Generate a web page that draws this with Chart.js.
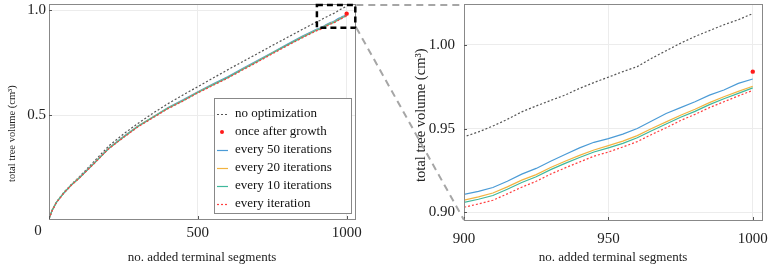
<!DOCTYPE html>
<html>
<head>
<meta charset="utf-8">
<script src="https://cdn.jsdelivr.net/npm/chart.js@4.4.1/dist/chart.umd.min.js"></script>
<style>
  html, body { margin: 0; padding: 0; background: #fff; }
  #wrap { position: relative; width: 768px; height: 265px; }
  canvas { position: absolute; top: 0; }
  #left { left: 0; }
  #right { left: 384px; }
  #over { left: 0; pointer-events: none; }
</style>
</head>
<body>
<div id="wrap">
  <canvas id="left" width="380" height="265"></canvas>
  <canvas id="right" width="384" height="265"></canvas>
  <canvas id="over" width="768" height="265"></canvas>
</div>
<script>
// no. added terminal segments (coarse up to 900, then finer for the zoomed panel)
const segments = [0, 10, 25, 50, 75, 100, 150, 200, 250, 300, 350, 400, 450, 500, 550, 600, 650, 700, 750, 800, 850,
  900, 905, 910, 915, 920, 925, 930, 935, 940, 945, 950, 955, 960, 965, 970, 975, 980, 985, 990, 995, 1000];

const noOptimization = [0.005, 0.045, 0.086, 0.132, 0.170, 0.203, 0.277, 0.352, 0.410, 0.462, 0.510, 0.555, 0.596, 0.636, 0.676, 0.716, 0.755, 0.793, 0.832, 0.870, 0.908,
  0.9451, 0.9480, 0.9515, 0.9555, 0.9600, 0.9635, 0.9668, 0.9700, 0.9740, 0.9775, 0.9807, 0.9840, 0.9870, 0.9920, 0.9965, 1.0010, 1.0050, 1.0085, 1.0120, 1.0150, 1.0187];
const every50 = [0.005, 0.045, 0.085, 0.130, 0.168, 0.200, 0.270, 0.343, 0.398, 0.450, 0.493, 0.537, 0.573, 0.612, 0.648, 0.683, 0.722, 0.760, 0.799, 0.838, 0.876,
  0.9107, 0.9125, 0.9148, 0.9185, 0.9228, 0.9262, 0.9305, 0.9345, 0.9385, 0.9418, 0.9440, 0.9467, 0.9500, 0.9545, 0.9590, 0.9625, 0.9660, 0.9700, 0.9730, 0.9770, 0.9796];
const every20 = [0.005, 0.045, 0.085, 0.130, 0.167, 0.199, 0.269, 0.341, 0.396, 0.448, 0.491, 0.534, 0.570, 0.609, 0.645, 0.680, 0.719, 0.757, 0.796, 0.835, 0.872,
  0.9073, 0.9092, 0.9115, 0.9152, 0.9192, 0.9225, 0.9268, 0.9305, 0.9340, 0.9372, 0.9398, 0.9425, 0.9458, 0.9500, 0.9540, 0.9580, 0.9615, 0.9655, 0.9690, 0.9722, 0.9753];
const every10 = [0.005, 0.044, 0.084, 0.129, 0.167, 0.198, 0.268, 0.340, 0.395, 0.447, 0.490, 0.533, 0.569, 0.608, 0.644, 0.679, 0.718, 0.756, 0.795, 0.834, 0.871,
  0.9059, 0.9078, 0.9100, 0.9138, 0.9178, 0.9212, 0.9255, 0.9292, 0.9327, 0.9360, 0.9385, 0.9412, 0.9445, 0.9487, 0.9527, 0.9568, 0.9603, 0.9643, 0.9678, 0.9710, 0.9743];
const everyIteration = [0.004, 0.043, 0.083, 0.128, 0.166, 0.197, 0.267, 0.339, 0.393, 0.445, 0.488, 0.531, 0.567, 0.606, 0.641, 0.676, 0.715, 0.753, 0.792, 0.831, 0.868,
  0.9030, 0.9050, 0.9072, 0.9110, 0.9150, 0.9185, 0.9228, 0.9265, 0.9300, 0.9335, 0.9360, 0.9390, 0.9422, 0.9465, 0.9505, 0.9548, 0.9585, 0.9625, 0.9660, 0.9695, 0.9728];
const onceAfterGrowthX = [1000];
const onceAfterGrowthY = [0.984];

const leftXTicks = [0, 500, 1000];
const leftYTicks = [0.5, 1.0];
const rightXTicks = [900, 950, 1000];
const rightYTicks = [0.90, 0.95, 1.00];

// region of the left panel that is magnified on the right
const zoomBox = { x0: 900, x1: 1029, y0: 0.917, y1: 1.03 };

const SERIF = "'Liberation Serif', 'DejaVu Serif', serif";
const TXT = '#222';
const Y_TITLE = 'total tree volume (cm³)';

function pts(ys, xs = segments) { return xs.map((x, i) => ({ x, y: ys[i] })); }

function makeDatasets() {
  const line = { pointRadius: 0, borderWidth: 1.2, fill: false, tension: 0 };
  return [
    { label: 'no optimization', data: pts(noOptimization), borderColor: '#555', borderDash: [2, 2], order: 5, ...line },
    { label: 'once after growth', data: pts(onceAfterGrowthY, onceAfterGrowthX), showLine: false,
      pointRadius: 2.2, pointBackgroundColor: '#ff1a1a', pointBorderWidth: 0, borderColor: '#ff1a1a', order: 0 },
    { label: 'every 50 iterations', data: pts(every50), borderColor: '#4b9bd6', order: 4, ...line },
    { label: 'every 20 iterations', data: pts(every20), borderColor: '#f2b340', order: 3, ...line },
    { label: 'every 10 iterations', data: pts(every10), borderColor: '#3fb89c', order: 2, ...line },
    { label: 'every iteration', data: pts(everyIteration), borderColor: '#ff4040', borderDash: [2, 2], order: 1, ...line },
  ];
}

// box around the plot area, little inward ticks, vertical axis title
const framePlugin = {
  id: 'frame',
  afterDraw(chart, args, opts) {
    const { ctx, chartArea: a, scales } = chart;
    ctx.save();
    ctx.strokeStyle = '#888';
    ctx.lineWidth = 1;
    ctx.strokeRect(Math.round(a.left) + 0.5, Math.round(a.top) + 0.5, Math.round(a.right - a.left), Math.round(a.bottom - a.top));
    ctx.strokeStyle = '#555';
    ctx.beginPath();
    scales.x.ticks.forEach(t => {
      const px = Math.round(scales.x.getPixelForValue(t.value)) + 0.5;
      ctx.moveTo(px, a.bottom); ctx.lineTo(px, a.bottom - 3);
    });
    scales.y.ticks.forEach(t => {
      const py = Math.round(scales.y.getPixelForValue(t.value)) + 0.5;
      ctx.moveTo(a.left, py); ctx.lineTo(a.left + 3, py);
    });
    ctx.stroke();

    ctx.translate(opts.titleX, opts.titleY);
    ctx.rotate(-Math.PI / 2);
    ctx.font = opts.titleSize + 'px ' + SERIF;
    ctx.fillStyle = TXT;
    ctx.textAlign = 'left';
    ctx.textBaseline = 'middle';
    ctx.fillText(Y_TITLE, 0, 0);
    ctx.restore();
  }
};

const leftExtras = {
  id: 'leftExtras',
  afterDraw(chart) {
    const { ctx, chartArea: a, scales: { x, y } } = chart;
    ctx.save();
    // lone "0" at the corner
    ctx.font = '15px ' + SERIF;
    ctx.fillStyle = TXT;
    ctx.textAlign = 'center';
    ctx.textBaseline = 'middle';
    ctx.fillText('0', x.getPixelForValue(0) - 11, a.bottom + 12);

    // dashed zoom box
    const bx0 = x.getPixelForValue(zoomBox.x0), bx1 = x.getPixelForValue(zoomBox.x1);
    const by0 = y.getPixelForValue(zoomBox.y0), by1 = y.getPixelForValue(zoomBox.y1);
    ctx.strokeStyle = '#000';
    ctx.lineWidth = 2.5;
    ctx.setLineDash([6, 4]);
    ctx.strokeRect(bx0, by1 + 1, bx1 - bx0, by0 - by1 - 1);
    ctx.setLineDash([]);

    // legend
    const w = 137, h = 115;
    const lx = a.right - 4 - w, ly = a.bottom - 6 - h;
    ctx.fillStyle = '#fff';
    ctx.fillRect(lx, ly, w, h);
    ctx.strokeStyle = '#888';
    ctx.lineWidth = 1;
    ctx.strokeRect(Math.round(lx) + 0.5, Math.round(ly) + 0.5, w, h);
    ctx.font = '13px ' + SERIF;
    ctx.textAlign = 'left';
    chart.data.datasets.forEach((ds, i) => {
      const ry = ly + 16 + i * 18;
      if (ds.showLine === false) {
        ctx.fillStyle = ds.pointBackgroundColor;
        ctx.beginPath();
        ctx.arc(lx + 8, ry, 2, 0, Math.PI * 2);
        ctx.fill();
      } else {
        ctx.strokeStyle = ds.borderColor;
        ctx.lineWidth = 1.2;
        ctx.setLineDash(ds.borderDash || []);
        ctx.beginPath();
        ctx.moveTo(lx + 3, ry + 0.5); ctx.lineTo(lx + 14, ry + 0.5);
        ctx.stroke();
        ctx.setLineDash([]);
      }
      ctx.fillStyle = '#111';
      ctx.fillText(ds.label, lx + 21, ry);
    });
    ctx.restore();
  }
};

function axisOpts(min, max, tickVals, fmt, title, pad, fit) {
  return {
    type: 'linear', min, max,
    afterBuildTicks: s => { s.ticks = tickVals.map(v => ({ value: v })); },
    grid: { color: '#ececec', drawTicks: false },
    border: { display: false },
    ticks: { font: { family: SERIF, size: 15 }, color: TXT, maxRotation: 0, callback: fmt, padding: pad },
    title: { display: !!title, text: title, color: TXT, font: { family: SERIF, size: 13 }, padding: { top: 0, bottom: 0 } },
    afterFit: fit,
  };
}

const fitX = h => s => { s.height = h; s.paddingLeft = 0; s.paddingRight = 0; };
const fitY = w => s => { s.width = w; s.paddingTop = 0; s.paddingBottom = 0; };

const leftChart = new Chart(document.getElementById('left'), {
  type: 'line',
  data: { datasets: makeDatasets() },
  options: {
    responsive: false, animation: false,
    layout: { padding: { top: 2, right: 25, left: 0, bottom: 0 } },
    plugins: { legend: { display: false }, tooltip: { enabled: false },
      frame: { titleX: 12, titleY: 182, titleSize: 10.5 } },
    scales: {
      x: axisOpts(0, 1028, leftXTicks, v => v === 0 ? '' : String(v), 'no. added terminal segments', 5, fitX(46)),
      y: axisOpts(0.005, 1.03, leftYTicks, v => v.toFixed(1), '', 3, fitY(49)),
    },
  },
  plugins: [framePlugin, leftExtras],
});

const rightChart = new Chart(document.getElementById('right'), {
  type: 'line',
  data: { datasets: makeDatasets() },
  options: {
    responsive: false, animation: false,
    layout: { padding: { top: 2, right: 6, left: 0, bottom: 0 } },
    plugins: { legend: { display: false }, tooltip: { enabled: false },
      frame: { titleX: 37, titleY: 182, titleSize: 14.5 } },
    scales: {
      x: axisOpts(900, 1003.2, rightXTicks, v => String(v), 'no. added terminal segments', 10, fitX(45)),
      y: axisOpts(0.8954, 1.0244, rightYTicks, v => v.toFixed(2), '', 9, fitY(80)),
    },
  },
  plugins: [framePlugin],
});

// dashed connectors from the zoom box to the magnified panel
(function drawConnectors() {
  const ctx = document.getElementById('over').getContext('2d');
  const lx = leftChart.scales.x, ly = leftChart.scales.y;
  const ra = rightChart.chartArea;
  const offset = 384;
  const bx = lx.getPixelForValue(zoomBox.x1) + 1;
  const topY = ly.getPixelForValue(zoomBox.y1) + 1;
  const botY = ly.getPixelForValue(zoomBox.y0);
  ctx.strokeStyle = '#a6a6a6';
  ctx.lineWidth = 2;
  ctx.setLineDash([7, 5]);
  ctx.beginPath();
  ctx.moveTo(bx, topY); ctx.lineTo(offset + ra.left, topY);
  ctx.moveTo(bx, botY); ctx.lineTo(offset + ra.left, ra.bottom);
  ctx.stroke();
})();
</script>
</body>
</html>
